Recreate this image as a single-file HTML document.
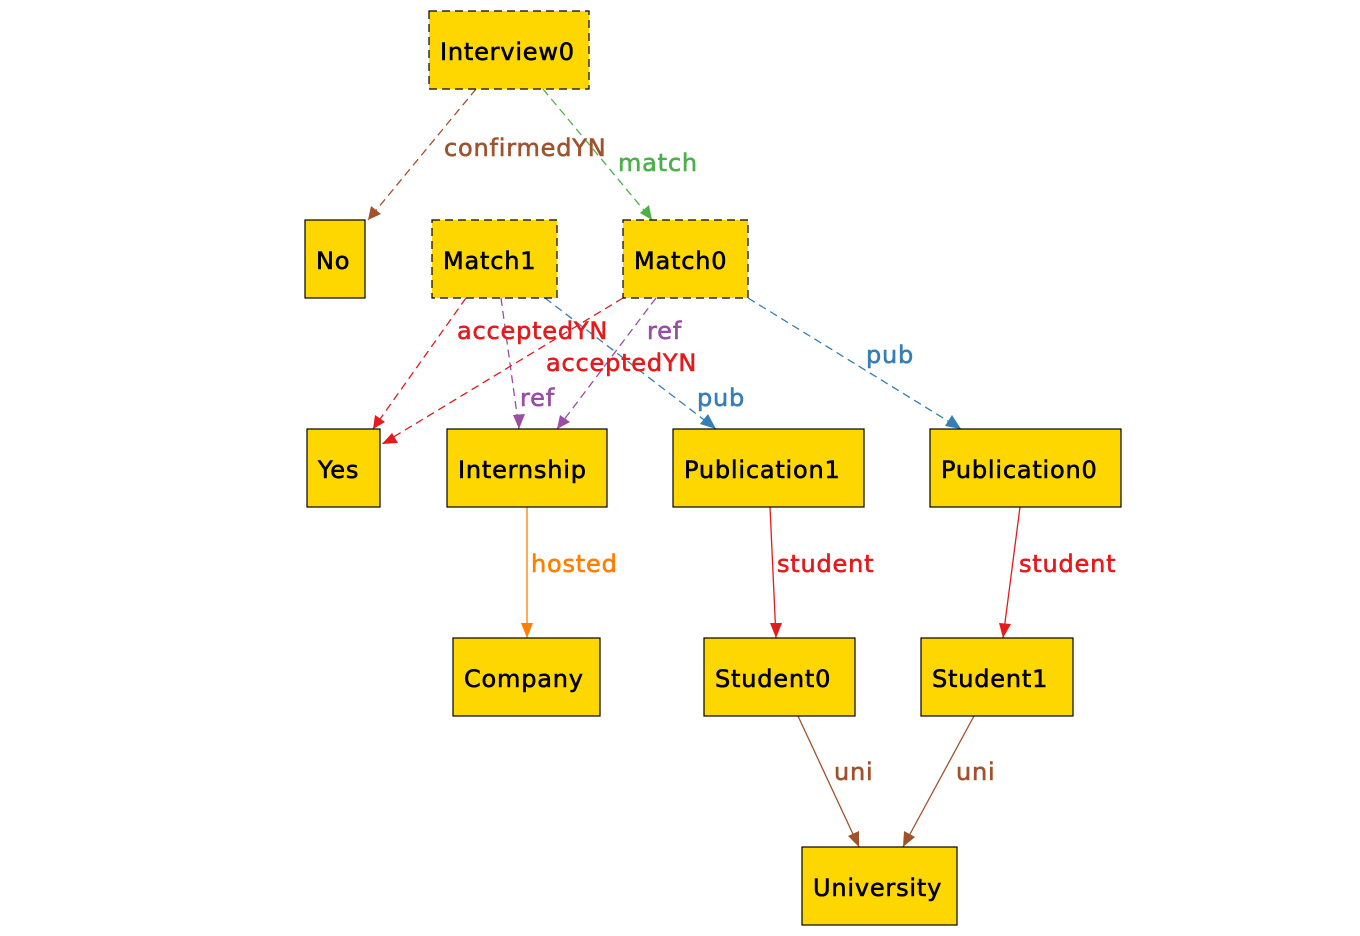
<!DOCTYPE html>
<html><head><meta charset="utf-8"><style>
html,body{margin:0;padding:0;background:#fff;width:1360px;height:936px;overflow:hidden}
svg text{font-family:"DejaVu Sans","Liberation Sans",sans-serif;font-size:24px;letter-spacing:0.8px;stroke-width:0.6px}
</style></head><body>
<svg width="1360" height="936" viewBox="0 0 1360 936" xmlns="http://www.w3.org/2000/svg">
<g fill="none" stroke-width="1.3">
<g stroke-dasharray="8,5">
<line x1="476" y1="89" x2="368" y2="220" stroke="#a0522d"/>
<line x1="543" y1="89" x2="652" y2="220" stroke="#4daf4a"/>
<line x1="466" y1="298" x2="373" y2="429" stroke="#e41a1c"/>
<line x1="501" y1="298" x2="519" y2="429" stroke="#984ea3"/>
<line x1="545" y1="298" x2="716" y2="429" stroke="#377eb8"/>
<line x1="623" y1="298" x2="382" y2="444" stroke="#e41a1c"/>
<line x1="656" y1="298" x2="557" y2="429" stroke="#984ea3"/>
<line x1="748" y1="298" x2="961" y2="429" stroke="#377eb8"/>
</g>
<line x1="527" y1="507" x2="527" y2="638" stroke="#ff7f00"/>
<line x1="770" y1="507" x2="776" y2="638" stroke="#e41a1c"/>
<line x1="1020" y1="507" x2="1003" y2="638" stroke="#e41a1c"/>
<line x1="798" y1="716" x2="859" y2="847" stroke="#a0522d"/>
<line x1="974" y1="716" x2="903" y2="847" stroke="#a0522d"/>
</g>
<g>
<polygon points="368,220 371,206 381,214" fill="#a0522d"/>
<polygon points="652,220 640,213 649,205" fill="#4daf4a"/>
<polygon points="373,429 375,415 385,422" fill="#e41a1c"/>
<polygon points="519,429 513,415 525,414" fill="#984ea3"/>
<polygon points="716,429 700,424 708,414" fill="#377eb8"/>
<polygon points="382,444 392,433 398,443" fill="#e41a1c"/>
<polygon points="557,429 560,415 570,422" fill="#984ea3"/>
<polygon points="961,429 945,426 952,415" fill="#377eb8"/>
<polygon points="527,638 521,623 533,623" fill="#ff7f00"/>
<polygon points="776,638 770,623 782,623" fill="#e41a1c"/>
<polygon points="1003,638 999,623 1011,624" fill="#e41a1c"/>
<polygon points="859,847 848,836 859,831" fill="#a0522d"/>
<polygon points="903,847 904,831 915,837" fill="#a0522d"/>
</g>
<g fill="#ffd700" stroke="#000" stroke-width="1.2">
<rect x="429" y="11" width="160" height="78" stroke-dasharray="8,5"/>
<rect x="305" y="220" width="60" height="78"/>
<rect x="432" y="220" width="125" height="78" stroke-dasharray="8,5"/>
<rect x="623" y="220" width="125" height="78" stroke-dasharray="8,5"/>
<rect x="307" y="429" width="73" height="78"/>
<rect x="447" y="429" width="160" height="78"/>
<rect x="673" y="429" width="191" height="78"/>
<rect x="930" y="429" width="191" height="78"/>
<rect x="453" y="638" width="147" height="78"/>
<rect x="704" y="638" width="151" height="78"/>
<rect x="921" y="638" width="152" height="78"/>
<rect x="802" y="847" width="155" height="78"/>
</g>
<g fill="#000" stroke="#000">
<text x="440" y="60">Interview0</text>
<text x="316" y="269">No</text>
<text x="443" y="269">Match1</text>
<text x="634" y="269">Match0</text>
<text x="318" y="478">Yes</text>
<text x="458" y="478">Internship</text>
<text x="684" y="478">Publication1</text>
<text x="941" y="478">Publication0</text>
<text x="464" y="687">Company</text>
<text x="715" y="687">Student0</text>
<text x="932" y="687">Student1</text>
<text x="813" y="896">University</text>
</g>
<text x="444" y="156" fill="#a0522d" stroke="#a0522d">confirmedYN</text>
<text x="618" y="171" fill="#4daf4a" stroke="#4daf4a">match</text>
<text x="457" y="339" fill="#e41a1c" stroke="#e41a1c">acceptedYN</text>
<text x="647" y="339" fill="#984ea3" stroke="#984ea3">ref</text>
<text x="546" y="371" fill="#e41a1c" stroke="#e41a1c">acceptedYN</text>
<text x="520" y="406" fill="#984ea3" stroke="#984ea3">ref</text>
<text x="697" y="406" fill="#377eb8" stroke="#377eb8">pub</text>
<text x="866" y="363" fill="#377eb8" stroke="#377eb8">pub</text>
<text x="531" y="572" fill="#ff7f00" stroke="#ff7f00">hosted</text>
<text x="777" y="572" fill="#e41a1c" stroke="#e41a1c">student</text>
<text x="1019" y="572" fill="#e41a1c" stroke="#e41a1c">student</text>
<text x="834" y="780" fill="#a0522d" stroke="#a0522d">uni</text>
<text x="956" y="780" fill="#a0522d" stroke="#a0522d">uni</text>
</svg>
</body></html>
